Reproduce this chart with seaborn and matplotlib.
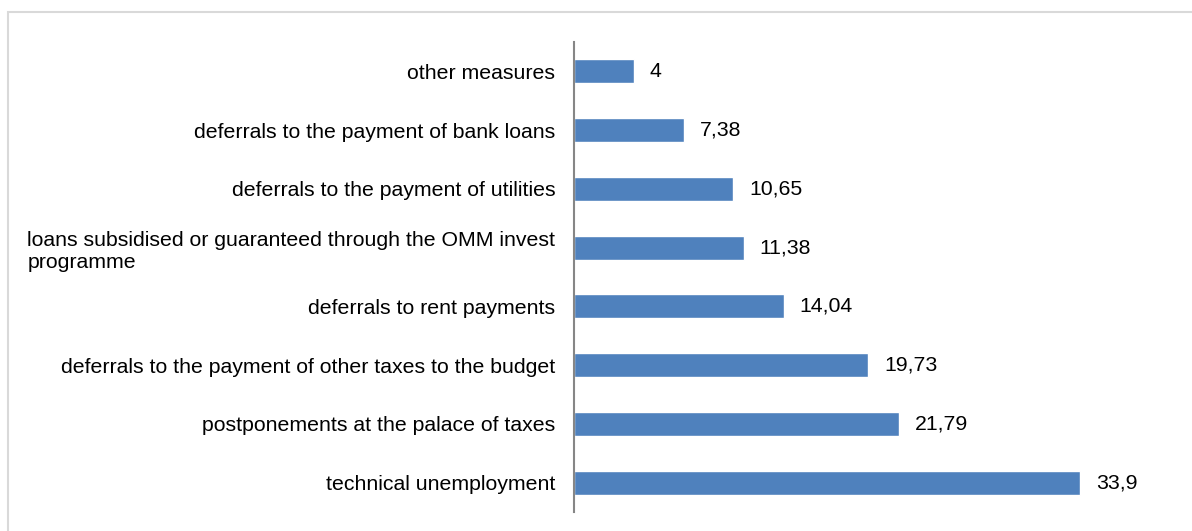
import matplotlib
matplotlib.use("Agg")
import matplotlib.pyplot as plt
import seaborn as sns
import pandas as pd
from matplotlib.patches import Rectangle

measures = [
    "other measures",
    "deferrals to the payment of bank loans",
    "deferrals to the payment of utilities",
    "loans subsidised or guaranteed through the OMM invest\nprogramme",
    "deferrals to rent payments",
    "deferrals to the payment of other taxes to the budget",
    "postponements at the palace of taxes",
    "technical unemployment",
]
shares = [4, 7.38, 10.65, 11.38, 14.04, 19.73, 21.79, 33.9]
value_labels = ["4", "7,38", "10,65", "11,38", "14,04", "19,73", "21,79", "33,9"]

df = pd.DataFrame({"measure": measures, "share": shares})

sns.set_theme(style="white")
plt.rcParams["font.family"] = ["Liberation Sans", "DejaVu Sans"]

W, H = 1192, 531
FS = 15.3
fig = plt.figure(figsize=(W / 100, H / 100), dpi=100)
ax = fig.add_axes([574 / W, (H - 512) / H, (1171 - 574) / W, (512 - 42) / H])

sns.barplot(data=df, x="share", y="measure", orient="h", color="#4F81BD",
            saturation=1, width=0.41, ax=ax)

for s in ["top", "right", "bottom"]:
    ax.spines[s].set_visible(False)
ax.spines["left"].set_color("#868686")
ax.spines["left"].set_linewidth(1.5)

ax.set_xlim(0, 40)
ax.set_xticks([])
ax.set_xlabel("")
ax.set_ylabel("")
ax.set_yticks(range(len(measures)), labels=measures, linespacing=1.25,
              multialignment="left")
ax.tick_params(axis="y", length=0, pad=13.5, labelsize=FS, labelcolor="black")

ax.bar_label(ax.containers[0], labels=value_labels, padding=11.5,
             fontsize=FS, color="black")

# light frame around the chart area
fig.patches.append(Rectangle((8 / W, -0.1), 1.2, (H - 12) / H + 0.1,
                             transform=fig.transFigure, fill=False,
                             edgecolor="#d9d9d9", linewidth=1.5))

fig.savefig("out.png", dpi=100, facecolor="white")
